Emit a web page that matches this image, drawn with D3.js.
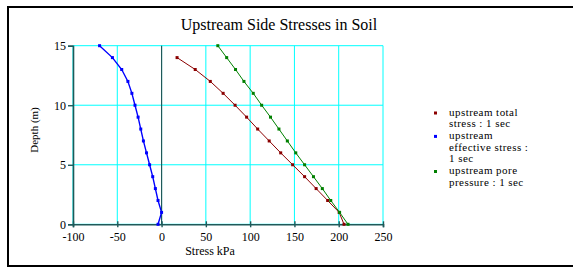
<!DOCTYPE html>
<html>
<head>
<meta charset="utf-8">
<script src="https://cdn.jsdelivr.net/npm/d3@7"></script>
<style>
  body { margin: 0; background: #fff; }
  svg { display: block; font-family: "Liberation Serif", "Times New Roman", serif; }
</style>
</head>
<body>
<div id="chart"></div>
<script>
// depths (m) at which each series was sampled
var depths = [0, 1, 2, 3, 4, 5, 6, 7, 8, 9, 10, 11, 12, 13, 14, 15];
var totalDepths = [0, 1, 2, 3, 4, 5, 6, 7, 8, 9, 10, 11, 12, 13, 14];

// stresses in kPa
var totalStress = [206, 200.5, 187.5, 174.5, 161.5, 148, 134.5, 121.5, 108.5, 96, 83, 69.5, 55, 38, 17.5];
var effectiveStress = [-4, 0, -4, -7, -10, -13.5, -17, -20.5, -23.5, -26.5, -30, -33.5, -38, -45, -55.5, -70];
var porePressure = [210.5, 201, 191, 181.5, 171.5, 161.5, 151.5, 142, 132.5, 123, 113, 103.5, 93, 83.5, 73.5, 63.5];

var xTicks = [-100, -50, 0, 50, 100, 150, 200, 250];
var yTicks = [0, 5, 10, 15];

var series = [
  { name: ["upstream total", "stress : 1 sec"], color: "#8b0000", depth: totalDepths, values: totalStress, width: 1 },
  { name: ["upstream", "effective stress :", "1 sec"], color: "#0000ff", depth: depths, values: effectiveStress, width: 1.4 },
  { name: ["upstream pore", "pressure : 1 sec"], color: "#008000", depth: depths, values: porePressure, width: 1 }
];

var W = 573, H = 269;
var axisColor = "#1f5a5a", gridColor = "#00ffff";

var svg = d3.select("#chart").append("svg")
    .attr("width", W)
    .attr("height", H);

// outer frame (right edge runs off the picture)
svg.append("rect")
    .attr("x", 8).attr("y", 7)
    .attr("width", 580).attr("height", 259)
    .attr("fill", "none")
    .attr("stroke", "#000")
    .attr("stroke-width", 2);

var x = d3.scaleLinear().domain([-100, 250]).range([73, 383]),
    y = d3.scaleLinear().domain([0, 15]).range([224.3, 45.7]);

// grid
svg.append("g").selectAll("line")
    .data(xTicks)
    .enter().append("line")
    .attr("x1", function(d) { return x(d); })
    .attr("x2", function(d) { return x(d); })
    .attr("y1", y(0)).attr("y2", y(15))
    .attr("stroke", gridColor);

svg.append("g").selectAll("line")
    .data(yTicks)
    .enter().append("line")
    .attr("x1", x(-100)).attr("x2", x(250))
    .attr("y1", function(d) { return y(d); })
    .attr("y2", function(d) { return y(d); })
    .attr("stroke", gridColor);

// zero line
svg.append("line")
    .attr("x1", x(0)).attr("x2", x(0))
    .attr("y1", y(0)).attr("y2", y(15))
    .attr("stroke", axisColor)
    .attr("stroke-width", 1.2);

// axes
var xAxis = d3.axisBottom(x).tickValues(xTicks).tickSize(3).tickPadding(5)
    .tickFormat(function(d) { return d; });
var yAxis = d3.axisLeft(y).tickValues(yTicks).tickSize(5).tickPadding(2);

var gx = svg.append("g")
    .attr("transform", "translate(0," + y(0) + ")")
    .call(xAxis);
var gy = svg.append("g")
    .attr("transform", "translate(" + x(-100) + ",0)")
    .call(yAxis);

[gx, gy].forEach(function(g) {
    g.attr("font-family", null);
    g.select(".domain").attr("stroke", axisColor).attr("stroke-width", 1.6);
    g.selectAll(".tick line").attr("stroke", axisColor).attr("stroke-width", 1.4);
    g.selectAll("text")
        .attr("fill", "#000")
        .style("font-family", "'Liberation Serif', serif")
        .style("font-size", "12px");
});
// x ticks cross the axis a little
gx.selectAll(".tick line").attr("y1", -3);

// series
var line = d3.line()
    .x(function(d) { return x(d[1]); })
    .y(function(d) { return y(d[0]); });

series.forEach(function(s) {
    var pts = s.depth.map(function(d, i) { return [d, s.values[i]]; });
    var g = svg.append("g");
    g.append("path")
        .datum(pts)
        .attr("d", line)
        .attr("fill", "none")
        .attr("stroke", s.color)
        .attr("stroke-width", s.width);
    g.selectAll("rect")
        .data(pts)
        .enter().append("rect")
        .attr("x", function(d) { return x(d[1]) - 1.5; })
        .attr("y", function(d) { return y(d[0]) - 1.5; })
        .attr("width", 3).attr("height", 3)
        .attr("fill", s.color);
});

// title and axis labels
svg.append("text")
    .attr("x", 279).attr("y", 30)
    .attr("text-anchor", "middle")
    .style("font-size", "16px")
    .text("Upstream Side Stresses in Soil");

svg.append("text")
    .attr("x", 210).attr("y", 255)
    .attr("text-anchor", "middle")
    .style("font-size", "12px")
    .text("Stress kPa");

svg.append("text")
    .attr("transform", "translate(38,130) rotate(-90)")
    .attr("text-anchor", "middle")
    .style("font-size", "11px")
    .text("Depth (m)");

// legend: every line is one step below the last
var lineStep = 11.7, firstBaseline = 115.5;
var row = 0;
series.forEach(function(s) {
    var y0 = firstBaseline + row * lineStep;
    svg.append("rect")
        .attr("x", 434).attr("y", y0 - 4)
        .attr("width", 3).attr("height", 3)
        .attr("fill", s.color);
    s.name.forEach(function(t) {
        svg.append("text")
            .attr("x", 449)
            .attr("y", firstBaseline + row * lineStep)
            .style("font-size", "11px")
            .style("letter-spacing", "0.45px")
            .text(t);
        row++;
    });
});
</script>
</body>
</html>
